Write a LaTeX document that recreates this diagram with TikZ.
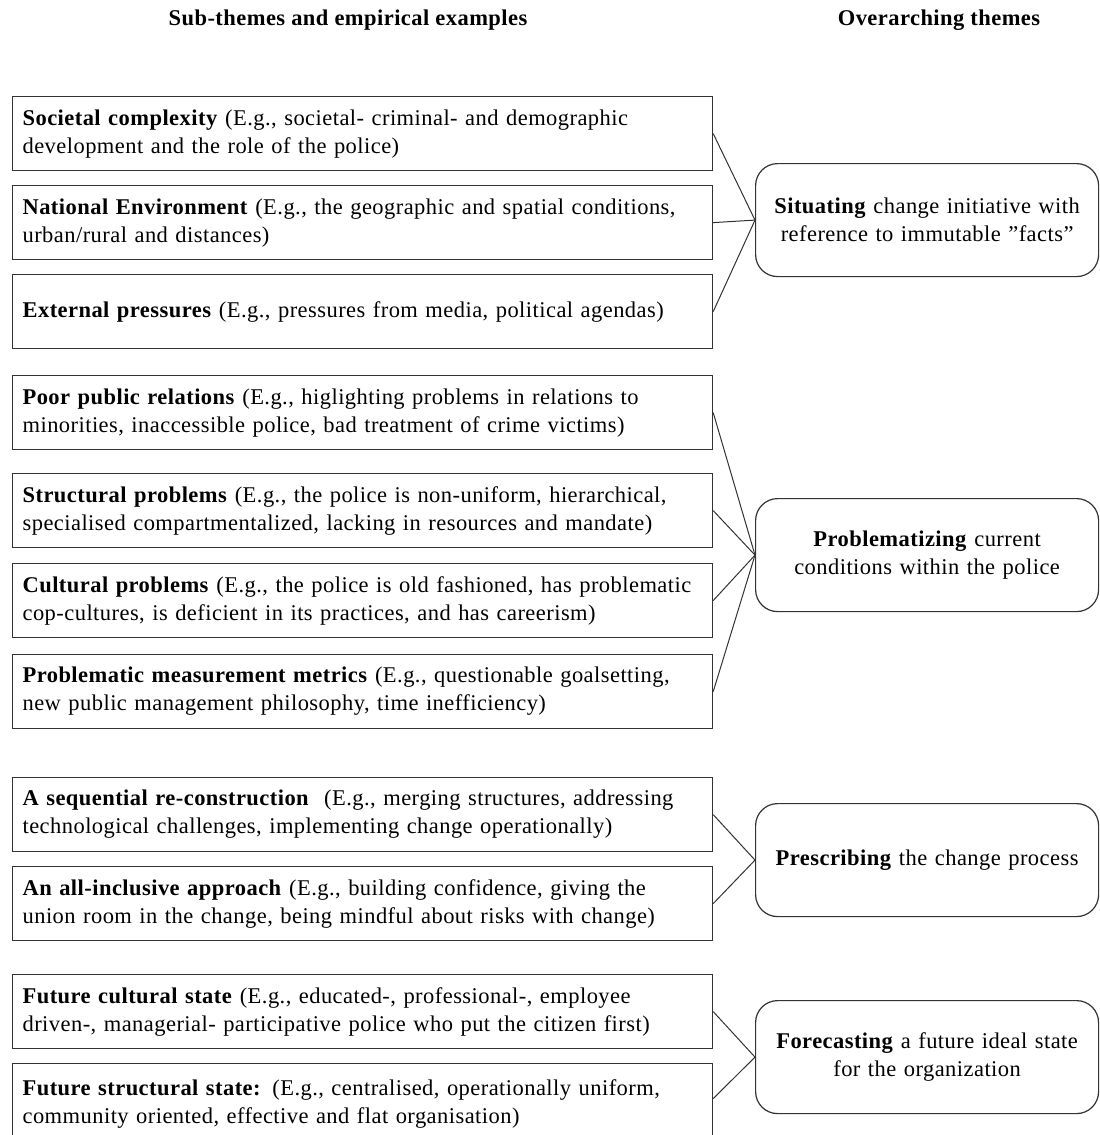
\documentclass[tikz,border=0pt]{standalone}
\usepackage{fontspec}
\setmainfont{Liberation Serif}[LetterSpace=2.0]
\begin{document}
\begin{tikzpicture}[x=1pt,y=-1pt,
  txt/.style={font=\fontsize{22.5}{28}\selectfont},
  sub/.style={txt, draw=black!80, line width=1.2pt, anchor=north west,
    text width=680pt, inner xsep=10pt, inner ysep=0pt, align=left,
    minimum height=74pt},
  theme/.style={txt, draw=black!80, line width=1.2pt, anchor=north west,
    rounded corners=22pt, text width=323pt, inner xsep=10pt, inner ysep=0pt,
    align=center, minimum height=113pt},
  hdr/.style={font=\fontsize{22.5}{26}\selectfont\bfseries},
  conn/.style={draw=black!80, line width=1pt}]
\useasboundingbox (0,0) rectangle (1100,1135);
\fill[white] (0,0) rectangle (1100,1135);

\node[hdr] (h1) at (348,20) {Sub-themes and empirical examples};
\node[hdr] (h2) at (939,20) {Overarching themes};

\node[sub] (b1) at (12,96) {\textbf{Societal complexity} (E.g., societal- criminal- and demographic\\ development and the role of the police)};
\node[sub] (b2) at (12,185) {\textbf{National Environment} (E.g., the geographic and spatial conditions,\\ urban/rural and distances)};
\node[sub] (b3) at (12,274) {\textbf{External pressures} (E.g., pressures from media, political agendas)};

\node[sub] (b4) at (12,375) {\textbf{Poor public relations} (E.g., higlighting problems in relations to\\ minorities, inaccessible police, bad treatment of crime victims)};
\node[sub] (b5) at (12,473) {\textbf{Structural problems} (E.g., the police is non-uniform, hierarchical,\\ specialised compartmentalized, lacking in resources and mandate)};
\node[sub] (b6) at (12,563) {\textbf{Cultural problems} (E.g., the police is old fashioned, has problematic\\ cop-cultures, is deficient in its practices, and has careerism)};
\node[sub] (b7) at (12,654) {\textbf{Problematic measurement metrics} (E.g., questionable goalsetting,\\ new public management philosophy, time inefficiency)};

\node[sub] (b8) at (12,777) {\textbf{A sequential re-construction}\ \ (E.g., merging structures, addressing\\ technological challenges, implementing change operationally)};
\node[sub] (b9) at (12,866) {\textbf{An all-inclusive approach} (E.g., building confidence, giving the\\ union room in the change, being mindful about risks with change)};

\node[sub] (b10) at (12,974) {\textbf{Future cultural state} (E.g., educated-, professional-, employee\\ driven-, managerial- participative police who put the citizen first)};
\node[sub, minimum height=80pt] (b11) at (12,1063) {\textbf{Future structural state:} (E.g., centralised, operationally uniform,\\ community oriented, effective and flat organisation)\\[6pt]};

\node[theme] (t1) at (755,163) {\textbf{Situating} change initiative with\\ reference to immutable ''facts''};
\node[theme] (t2) at (755,498) {\textbf{Problematizing} current\\ conditions within the police};
\node[theme] (t3) at (755,803) {\textbf{Prescribing} the change process};
\node[theme] (t4) at (755,1000) {\textbf{Forecasting} a future ideal state\\ for the organization};

\draw[conn] (b1.east) -- (t1.west);
\draw[conn] (b2.east) -- (t1.west);
\draw[conn] (b3.east) -- (t1.west);
\draw[conn] (b4.east) -- (t2.west);
\draw[conn] (b5.east) -- (t2.west);
\draw[conn] (b6.east) -- (t2.west);
\draw[conn] (b7.east) -- (t2.west);
\draw[conn] (b8.east) -- (t3.west);
\draw[conn] (b9.east) -- (t3.west);
\draw[conn] (b10.east) -- (t4.west);
\draw[conn] ([yshift=5pt]b11.east) -- (t4.west);
\end{tikzpicture}
\end{document}
